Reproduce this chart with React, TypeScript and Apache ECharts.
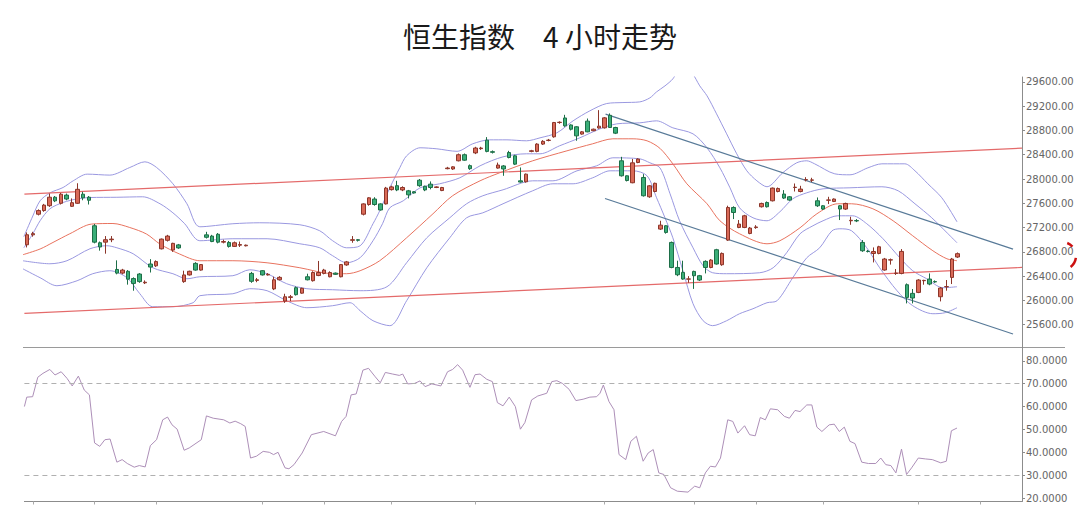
import React, { useEffect, useRef } from "react";
import * as echarts from "echarts";

// ---------- data ----------
const CATEGORY_COUNT = 178; // 4-hour bars incl. empty space on the right
const categories: string[] = Array.from({ length: CATEGORY_COUNT }, (_, i) => String(i));

// [open, close, low, high]
const candles: number[][] = [
  [26917, 27082, 26873, 27120], [27080, 27100, 27050, 27130], [27420, 27480, 27400, 27500], [27480, 27570, 27460, 27590],
  [27560, 27700, 27540, 27760], [27700, 27640, 27620, 27720], [27600, 27750, 27580, 27770], [27735, 27670, 27650, 27760],
  [27550, 27610, 27540, 27680], [27600, 27830, 27590, 27930], [27750, 27690, 27650, 27790], [27700, 27650, 27580, 27720],
  [27230, 26960, 26940, 27260], [26950, 26880, 26820, 26970], [26960, 27000, 26770, 27060], [27000, 27010, 26960, 27060],
  [26510, 26450, 26430, 26660], [26450, 26500, 26430, 26520], [26480, 26350, 26260, 26500], [26360, 26280, 26160, 26380],
  [26435, 26310, 26290, 26450], [26290, 26300, 26270, 26330], [26600, 26550, 26460, 26680], [26570, 26640, 26550, 26660],
  [26850, 27010, 26840, 27020], [26990, 27060, 26970, 27080], [26830, 26940, 26800, 26950], [26915, 26865, 26850, 26930],
  [26310, 26420, 26290, 26490], [26420, 26480, 26410, 26490], [26610, 26500, 26490, 26630], [26500, 26590, 26490, 26600],
  [27080, 27040, 27020, 27130], [27060, 26970, 26960, 27080], [27090, 26960, 26940, 27110], [26960, 26970, 26940, 27000],
  [26955, 26890, 26870, 26980], [26890, 26950, 26880, 26970], [26910, 26920, 26880, 26970], [26900, 26910, 26890, 26920],
  [26445, 26315, 26290, 26470], [26330, 26340, 26300, 26370], [26490, 26420, 26410, 26500], [26420, 26430, 26410, 26450],
  [26190, 26340, 26170, 26390], [26340, 26380, 26330, 26400], [25990, 26060, 25960, 26110], [26050, 26060, 25990, 26090],
  [26210, 26095, 26080, 26230], [26120, 26200, 26110, 26210], [26390, 26340, 26330, 26440], [26325, 26460, 26310, 26480],
  [26410, 26460, 26400, 26650], [26445, 26500, 26430, 26520], [26390, 26460, 26380, 26480], [26450, 26430, 26420, 26460],
  [26390, 26590, 26380, 26600], [26585, 26635, 26570, 26650], [26990, 27000, 26950, 27060], [27000, 26990, 26970, 27010],
  [27420, 27590, 27400, 27600], [27580, 27690, 27560, 27700], [27670, 27580, 27560, 27700], [27590, 27490, 27480, 27600],
  [27590, 27850, 27580, 27870], [27825, 27870, 27810, 27890], [27890, 27820, 27800, 27970], [27820, 27860, 27800, 27880],
  [27805, 27740, 27680, 27820], [27790, 27770, 27760, 27800], [27980, 27890, 27870, 28000], [27880, 27820, 27800, 27890],
  [27915, 27860, 27830, 27960], [27860, 27870, 27850, 27880], [27810, 27860, 27800, 27870], [28170, 28180, 28160, 28200],
  [28165, 28200, 28150, 28210], [28300, 28400, 28290, 28420], [28400, 28310, 28300, 28420], [28220, 28170, 28150, 28240],
  [28430, 28510, 28410, 28530], [28500, 28510, 28480, 28530], [28640, 28455, 28440, 28690], [28450, 28440, 28420, 28470],
  [28180, 28230, 28170, 28270], [28215, 28165, 28053, 28230], [28436, 28354, 28340, 28464], [28382, 28245, 28230, 28400],
  [27970, 27950, 27940, 28190], [27954, 28080, 27940, 28090], [28455, 28465, 28440, 28480], [28455, 28575, 28440, 28590],
  [28575, 28620, 28560, 28640], [28635, 28640, 28620, 28660], [28695, 28930, 28680, 28940], [28930, 28935, 28910, 28950],
  [29005, 28876, 28860, 29057], [28890, 28820, 28800, 28900], [28860, 28711, 28630, 28870], [28740, 28777, 28730, 28790],
  [28953, 28777, 28770, 28996], [28795, 28820, 28790, 28830], [28840, 28870, 28830, 29134], [28843, 29007, 28830, 29020],
  [29049, 28848, 28840, 29080], [28848, 28755, 28740, 28860], [28300, 28053, 28040, 28365], [28053, 27975, 27960, 28060],
  [27938, 28266, 27930, 28330], [28272, 28328, 28260, 28340], [28025, 27724, 27710, 28080], [27707, 27888, 27690, 27900],
  [27794, 27929, 27780, 27940], [27175, 27240, 27160, 27312], [27230, 27120, 27100, 27240], [26955, 26543, 26530, 26970],
  [26543, 26423, 26400, 26654], [26462, 26352, 26340, 26654], [26350, 26355, 26290, 26400], [26478, 26407, 26190, 26490],
  [26407, 26336, 26320, 26420], [26643, 26543, 26445, 26660], [26543, 26665, 26530, 26680], [26835, 26600, 26590, 26850],
  [26588, 26774, 26570, 26790], [26994, 27531, 26980, 27560], [27531, 27448, 27340, 27550], [27202, 27258, 27190, 27324],
  [27202, 27394, 27190, 27410], [27103, 27192, 27090, 27210], [27200, 27210, 27180, 27240], [27543, 27597, 27530, 27610],
  [27613, 27543, 27530, 27630], [27641, 27850, 27630, 27860], [27794, 27844, 27780, 27860], [27752, 27686, 27670, 27817],
  [27707, 27653, 27640, 27720], [27860, 27865, 27794, 27926], [27794, 27834, 27780, 27888], [27985, 27990, 27960, 28030],
  [27980, 27985, 27950, 28020], [27641, 27559, 27540, 27696], [27559, 27505, 27490, 27570], [27650, 27655, 27587, 27707],
  [27630, 27670, 27620, 27680], [27559, 27505, 27324, 27570], [27505, 27597, 27490, 27610], [27312, 27320, 27246, 27378],
  [27315, 27310, 27290, 27340], [26955, 26818, 26800, 26994], [26810, 26806, 26790, 26830], [26773, 26806, 26626, 26873],
  [26774, 26884, 26760, 26900], [26501, 26682, 26490, 26700], [26665, 26670, 26590, 26690], [26445, 26450, 26420, 26517],
  [26445, 26807, 26430, 26846], [26259, 26050, 25951, 26280], [26116, 26040, 25951, 26188], [26132, 26336, 26120, 26350],
  [26325, 26330, 26259, 26340], [26352, 26270, 26250, 26445], [26310, 26305, 26290, 26330], [26061, 26204, 25984, 26220],
  [26225, 26228, 26160, 26336], [26379, 26682, 26270, 26700], [26715, 26770, 26700, 26790],
];

// Bollinger-type bands: [bar index, price]
const upperOuter: number[][] = [
  [-0.6, 27050], [1.0, 27390], [2.3, 27641], [4.1, 27773], [6.4, 27860], [8.2, 27970], [10.7, 28080], [14.75, 28064],
  [18.3, 28189], [21.0, 28283], [23.1, 28189], [26.0, 27921], [28.5, 27592], [30.8, 27213], [36.7, 27263], [41.5, 27279],
  [48.65, 27246], [52.2, 27147], [54.5, 26983], [57.0, 26867], [59.4, 26900], [61.7, 27263], [62.9, 27477], [64.7, 27855],
  [66.5, 28189], [67.7, 28382], [70.1, 28514], [73.1, 28497], [76.7, 28456], [79.5, 28580], [82.5, 28645], [85.6, 28645],
  [89.1, 28629], [91.5, 28678], [94.5, 28760], [97.4, 28958], [100.4, 29123], [103.4, 29243], [106.3, 29259], [109.3, 29270],
  [111.1, 29336], [112.3, 29435], [113.8, 29534], [115.2, 29649], [116.8, 29863], [118.6, 29748], [120.0, 29534], [121.3, 29370],
  [123.0, 29073], [124.8, 28744], [126.6, 28415], [128.4, 28135], [130.2, 27970], [132.0, 27872], [134.8, 28102], [137.3, 28267],
  [139.1, 28300], [140.5, 28250], [144.1, 28085], [146.8, 28069], [150.0, 28184], [152.5, 28250], [156.6, 28250], [158.4, 28135],
  [160.7, 27921], [163.2, 27690], [165.9, 27295],
];
const upperInner: number[][] = [
  [-0.6, 26867], [1.0, 27098], [2.3, 27312], [4.05, 27509], [6.4, 27613], [9.0, 27674], [11.2, 27695], [16.0, 27699],
  [20.6, 27707], [23.7, 27592], [26.0, 27443], [28.1, 27263], [30.8, 26983], [36.7, 27016], [42.8, 27016], [48.65, 26933],
  [52.2, 26867], [54.5, 26736], [57.0, 26620], [59.4, 26703], [61.7, 26983], [63.4, 27263], [64.7, 27526], [67.1, 27641],
  [70.1, 27855], [73.6, 27921], [77.2, 28020], [80.8, 28217], [84.9, 28365], [89.1, 28415], [91.5, 28415], [95.0, 28547],
  [98.6, 28678], [102.2, 28826], [105.2, 28908], [109.3, 28925], [112.3, 28958], [115.2, 28843], [118.8, 28744], [121.3, 28513],
  [123.6, 28184], [125.4, 27855], [127.1, 27526], [129.5, 27361], [132.0, 27312], [134.3, 27460], [136.6, 27674], [139.1, 27773],
  [142.0, 27838], [146.8, 27855], [152.5, 27872], [155.4, 27806], [158.4, 27592], [161.4, 27361], [164.3, 27098], [165.9, 26950],
];
const middleBand: number[][] = [
  [-0.8, 26752], [2.3, 26847], [4.6, 26955], [7.6, 27098], [11.5, 27258], [15.3, 27267], [18.3, 27201], [21.3, 27093],
  [23.7, 26928], [27.2, 26764], [30.8, 26654], [36.7, 26654], [42.8, 26620], [48.65, 26538], [54.5, 26440], [57.0, 26440],
  [59.4, 26489], [62.9, 26654], [67.7, 27032], [72.4, 27427], [75.9, 27724], [80.8, 27970], [84.3, 28102], [90.2, 28300],
  [96.3, 28464], [100.9, 28580], [104.5, 28662], [108.1, 28662], [110.6, 28629], [112.9, 28505], [115.2, 28250], [117.7, 27921],
  [121.3, 27592], [123.6, 27312], [127.1, 27098], [132.0, 26933], [134.3, 26983], [137.9, 27197], [140.9, 27427], [144.6, 27592],
  [147.1, 27592], [150.9, 27509], [154.5, 27312], [158.0, 27065], [161.6, 26818], [164.1, 26686], [165.9, 26654],
];
const lowerInner: number[][] = [
  [-0.8, 26654], [4.05, 26604], [7.1, 26654], [11.2, 26851], [14.2, 26901], [16.0, 26867], [18.9, 26769], [22.4, 26538],
  [26.0, 26440], [28.5, 26357], [30.8, 26390], [36.7, 26407], [39.7, 26505], [42.8, 26440], [46.3, 26275], [49.9, 26193],
  [54.5, 26176], [59.4, 26160], [64.2, 26226], [67.7, 26621], [71.3, 27032], [75.4, 27361], [78.4, 27592], [81.3, 27724],
  [84.9, 27822], [90.2, 27970], [93.8, 27970], [98.1, 28135], [101.6, 28217], [104.5, 28349], [109.3, 28332], [111.1, 28267],
  [112.9, 28184], [114.7, 27757], [116.4, 27312], [118.8, 26867], [120.6, 26571], [122.3, 26456], [124.8, 26440], [130.7, 26456],
  [133.1, 26538], [135.5, 26785], [137.9, 27098], [140.2, 27230], [142.0, 27312], [144.6, 27394], [147.3, 27394], [149.8, 27263],
  [152.7, 27016], [155.7, 26703], [158.0, 26489], [160.5, 26357], [163.4, 26209], [165.9, 26226],
];
const lowerOuter: number[][] = [
  [-0.8, 26522], [2.3, 26374], [5.3, 26242], [8.9, 26324], [11.7, 26440], [14.75, 26489], [17.8, 26374], [20.1, 26110],
  [22.4, 25896], [26.0, 25896], [29.6, 25962], [30.8, 26078], [36.7, 26110], [39.7, 26193], [42.8, 26160], [46.3, 25995],
  [49.9, 25880], [54.5, 25913], [57.6, 25962], [59.4, 25830], [61.7, 25666], [64.7, 25584], [67.7, 25995], [71.3, 26538],
  [75.4, 27032], [78.4, 27361], [81.3, 27443], [84.9, 27592], [90.2, 27806], [93.8, 27921], [97.4, 27921], [100.9, 28020],
  [104.0, 28135], [108.1, 28135], [110.6, 28053], [112.3, 27690], [113.8, 27361], [115.2, 27032], [117.0, 26489], [118.8, 25946],
  [120.6, 25666], [122.3, 25584], [124.8, 25666], [127.1, 25781], [129.5, 25863], [132.0, 25962], [133.8, 25995], [136.6, 26374],
  [139.1, 26703], [141.4, 26867], [143.6, 27147], [145.0, 27180], [147.1, 27147], [149.8, 26867], [152.1, 26538], [155.2, 26160],
  [158.0, 25913], [161.6, 25781], [163.8, 25798], [165.9, 25880],
];

// trend lines: [bar index, price]
const channelUpperRed: number[][] = [[-0.5, 27751], [177.5, 28508]];
const channelLowerRed: number[][] = [[-0.5, 25786], [177.5, 26543]];
const channelUpperBlue: number[][] = [[103.2, 29068], [175.9, 26846]];
const channelLowerBlue: number[][] = [[103.1, 27679], [175.9, 25447]];

// RSI: [bar index, value]
const rsi: number[][] = [
  [-0.5, 60.0], [-0.08, 64.1], [0.97, 64.3], [1.89, 72.8], [2.81, 74.5], [4.04, 76.2], [4.96, 73.8], [6.06, 75.2],
  [7.11, 72.3], [8.03, 69.0], [9.13, 73.3], [10.18, 67.2], [11.1, 65.1], [12.02, 44.1], [12.94, 42.6], [13.86, 45.5],
  [14.79, 45.8], [16.0, 35.7], [16.94, 36.8], [17.86, 35.1], [19.1, 33.5], [20.0, 34.2], [21.05, 33.6], [21.97, 42.9],
  [23.08, 45.5], [24.18, 54.2], [25.04, 55.4], [25.84, 52.0], [26.76, 50.1], [28.0, 40.9], [28.9, 41.9], [31.06, 45.5],
  [31.98, 55.9], [33.2, 54.9], [35.06, 54.2], [36.16, 52.8], [37.1, 53.6], [38.1, 52.5], [38.9, 51.3], [39.85, 37.5],
  [40.9, 38.3], [42.1, 40.4], [43.2, 40.0], [43.96, 39.0], [44.76, 40.0], [46.0, 33.2], [46.7, 32.8], [47.6, 34.6],
  [49.06, 39.7], [50.7, 47.7], [52.9, 49.1], [55.0, 47.2], [56.1, 53.5], [56.9, 55.7], [57.8, 65.1], [58.7, 65.5],
  [59.9, 75.9], [60.9, 76.7], [62.1, 73.0], [63.0, 70.4], [63.9, 74.9], [65.2, 74.2], [66.4, 73.6], [67.0, 74.2],
  [67.9, 69.9], [69.1, 70.1], [70.1, 71.2], [71.0, 68.7], [72.2, 69.9], [73.8, 69.0], [75.0, 75.2], [75.9, 76.2],
  [76.8, 78.3], [77.7, 75.9], [79.0, 68.4], [79.9, 73.9], [80.8, 74.2], [82.0, 71.9], [83.0, 70.9], [83.9, 61.7],
  [84.9, 60.3], [86.0, 64.1], [87.1, 60.0], [88.0, 50.1], [88.8, 53.0], [90.0, 62.9], [91.1, 64.6], [92.7, 65.8],
  [93.6, 70.9], [94.5, 71.3], [95.5, 70.1], [96.7, 67.5], [97.9, 62.6], [99.2, 63.2], [100.4, 64.1], [101.6, 64.3],
  [102.2, 65.8], [102.8, 69.4], [103.8, 62.2], [104.7, 58.6], [105.6, 39.0], [106.8, 36.8], [107.7, 44.8], [108.7, 47.0],
  [109.9, 36.1], [110.8, 39.7], [111.7, 41.2], [112.7, 31.0], [113.6, 30.3], [114.8, 24.5], [116.0, 23.0], [117.9, 22.6],
  [119.1, 25.2], [120.0, 24.5], [121.0, 31.0], [121.9, 33.9], [122.8, 33.6], [123.7, 37.5], [125.0, 54.2], [125.9, 53.5],
  [126.8, 48.4], [128.0, 51.6], [128.9, 47.7], [129.9, 47.2], [130.8, 55.2], [131.7, 54.2], [132.6, 59.0], [133.9, 58.6],
  [135.1, 55.7], [136.0, 54.9], [137.0, 58.3], [137.9, 57.8], [139.1, 60.7], [140.0, 60.7], [140.9, 51.0], [141.8, 49.1],
  [143.1, 52.0], [144.0, 52.3], [144.9, 49.1], [145.8, 51.0], [146.8, 44.8], [147.7, 43.8], [148.9, 35.7], [150.1, 35.1],
  [151.4, 35.1], [152.3, 37.5], [153.2, 34.6], [154.1, 34.2], [155.0, 31.0], [156.0, 41.4], [156.9, 30.3], [157.8, 33.2],
  [159.0, 37.5], [160.3, 37.1], [161.5, 36.8], [163.0, 35.4], [164.0, 36.1], [164.9, 49.4], [165.9, 50.6],
];
const rsiLevels: number[] = [70, 30];
const xTickIndices: number[] = [1, 12, 23, 42, 53, 65, 80, 103, 119, 130, 142, 159, 170];

// ---------- styles ----------
const BAND_BLUE = "#9a98e0";
const BAND_RED = "#e8735f";
const AXIS_GREY = "#8c8c8c";
const LABEL_GREY = "#666666";

function bandSeries(name: string, data: number[][], color: string) {
  return {
    name,
    type: "line",
    xAxisIndex: 1,
    yAxisIndex: 0,
    data,
    showSymbol: false,
    smooth: 0.3,
    lineStyle: { color, width: 1 },
    z: 2,
    silent: true,
  };
}
function trendSeries(name: string, data: number[][], color: string) {
  return {
    name,
    type: "line",
    xAxisIndex: 1,
    yAxisIndex: 0,
    data,
    showSymbol: false,
    lineStyle: { color, width: 1.2 },
    z: 3,
    silent: true,
  };
}

const hiddenValueX = (gridIndex: number) => ({
  type: "value",
  gridIndex,
  min: -0.5,
  max: CATEGORY_COUNT - 0.5,
  show: false,
  position: "top",
  axisLine: { show: false, onZero: false },
  axisTick: { show: false },
  axisLabel: { show: false },
  splitLine: { show: false },
});

export default function App() {
  const ref = useRef<HTMLDivElement>(null);
  useEffect(() => {
    if (!ref.current) return;
    const chart = echarts.init(ref.current, undefined, { renderer: "svg" });
    const option: any = {
      animation: false,
      backgroundColor: "#ffffff",
      title: {
        text: "恒生指数　4 小时走势",
        left: "center",
        top: 17,
        textStyle: {
          fontSize: 28,
          fontWeight: "normal",
          color: "#1a1a1a",
          fontFamily: '"Noto Sans CJK SC", sans-serif',
        },
      },
      grid: [
        { left: 24.4, right: 58, top: 77, height: 272 },
        { left: 24.4, right: 58, top: 347.5, height: 154 },
      ],
      xAxis: [
        {
          type: "category",
          gridIndex: 0,
          data: categories,
          boundaryGap: true,
          show: false,
          axisLine: { show: false, onZero: false },
        },
        hiddenValueX(0),
        {
          type: "category",
          gridIndex: 1,
          data: categories,
          boundaryGap: true,
          axisLine: { show: true, onZero: false, lineStyle: { color: AXIS_GREY, width: 1 } },
          axisTick: {
            show: true,
            alignWithLabel: true,
            length: 3,
            interval: (idx: number) => xTickIndices.includes(idx),
            lineStyle: { color: "#aaaaaa" },
          },
          axisLabel: { show: false },
          splitLine: { show: false },
        },
        hiddenValueX(1),
      ],
      yAxis: [
        {
          type: "value",
          gridIndex: 0,
          position: "right",
          min: 25200,
          max: 29680,
          interval: 400,
          axisLine: { show: true, onZero: false, lineStyle: { color: AXIS_GREY } },
          axisTick: { show: true, length: 3, lineStyle: { color: AXIS_GREY } },
          axisLabel: {
            show: true,
            margin: 4,
            showMinLabel: false,
            showMaxLabel: false,
            fontSize: 10,
            color: LABEL_GREY,
            fontFamily: '"DejaVu Sans", sans-serif',
            formatter: (v: number) => v.toFixed(2),
          },
          splitLine: { show: false },
        },
        {
          type: "value",
          gridIndex: 1,
          position: "right",
          min: 18.5,
          max: 85.8,
          splitNumber: 5,
          axisLine: { show: true, onZero: false, lineStyle: { color: AXIS_GREY } },
          axisTick: { show: true, length: 3, lineStyle: { color: AXIS_GREY } },
          axisLabel: {
            show: true,
            margin: 4,
            showMinLabel: false,
            showMaxLabel: false,
            fontSize: 10,
            color: LABEL_GREY,
            fontFamily: '"DejaVu Sans", sans-serif',
            formatter: (v: number) => v.toFixed(4),
          },
          splitLine: { show: false },
        },
      ],
      series: [
        trendSeries("上轨通道", channelUpperRed, "#e46a6a"),
        trendSeries("下轨通道", channelLowerRed, "#e46a6a"),
        trendSeries("下降通道上沿", channelUpperBlue, "#587a98"),
        trendSeries("下降通道下沿", channelLowerBlue, "#587a98"),
        bandSeries("外上轨", upperOuter, BAND_BLUE),
        bandSeries("内上轨", upperInner, BAND_BLUE),
        bandSeries("中轨", middleBand, BAND_RED),
        bandSeries("内下轨", lowerInner, BAND_BLUE),
        bandSeries("外下轨", lowerOuter, BAND_BLUE),
        {
          name: "K线",
          type: "candlestick",
          xAxisIndex: 0,
          yAxisIndex: 0,
          data: candles,
          barWidth: 4,
          z: 5,
          itemStyle: {
            color: "#d96a58",
            color0: "#3aae78",
            borderColor: "#8c3529",
            borderColor0: "#1d6e47",
            borderWidth: 1,
          },
        },
        {
          name: "RSI",
          type: "line",
          xAxisIndex: 3,
          yAxisIndex: 1,
          data: rsi,
          showSymbol: false,
          lineStyle: { color: "#ad8fb8", width: 1 },
          z: 3,
          markLine: {
            silent: true,
            symbol: ["none", "none"],
            label: { show: false },
            lineStyle: { type: [5, 4], color: "#b0b0b0", width: 1 },
            data: rsiLevels.map((v) => ({ yAxis: v })),
          },
        },
      ],
      graphic: [
        {
          type: "line",
          silent: true,
          shape: { x1: 23, y1: 347.5, x2: 1065, y2: 347.5 },
          style: { stroke: "#9a9a9a", lineWidth: 1 },
        },
        {
          type: "arc",
          silent: true,
          shape: { cx: 1062, cy: 256, r: 14, startAngle: (-68 * Math.PI) / 180, endAngle: (-42 * Math.PI) / 180 },
          style: { stroke: "#cc1111", lineWidth: 2.5, fill: "none" },
        },
        {
          type: "arc",
          silent: true,
          shape: { cx: 1062, cy: 256, r: 14, startAngle: (8 * Math.PI) / 180, endAngle: (52 * Math.PI) / 180 },
          style: { stroke: "#cc1111", lineWidth: 2.5, fill: "none" },
        },
      ],
    };
    chart.setOption(option);
    return () => chart.dispose();
  }, []);

  return (
    <div
      ref={ref}
      style={{ position: "fixed", left: 0, top: 0, width: 1080, height: 521, background: "#fff" }}
    />
  );
}
